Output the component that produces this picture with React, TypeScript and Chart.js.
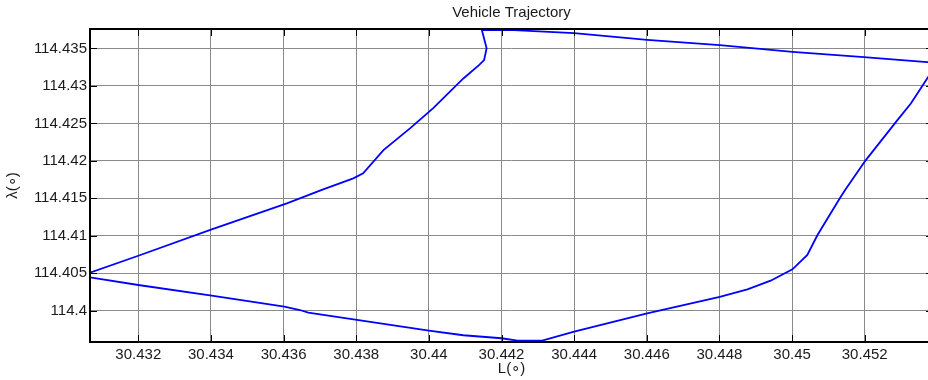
import React, { useEffect, useRef } from 'react';
import { Chart, registerables } from 'chart.js';

Chart.register(...registerables);

// Longitude-like x values, L(°)
const lonValues = [
  30.44234, 30.444, 30.44601, 30.44801, 30.45001, 30.45198, 30.45372, 30.45401,
  30.45372, 30.45327, 30.4529, 30.45203, 30.45146, 30.45134, 30.4507, 30.45042,
  30.45001, 30.44941, 30.44877, 30.44801, 30.44601, 30.444, 30.44312, 30.44244,
  30.442, 30.44095, 30.44, 30.43802, 30.43668, 30.43645, 30.43602, 30.43402,
  30.432, 30.43067, 30.43062, 30.43067, 30.432, 30.43402, 30.43609, 30.43709,
  30.43792, 30.43819, 30.43875, 30.43948, 30.44012, 30.44095, 30.44138, 30.44152,
  30.44159, 30.44146, 30.44149, 30.44234,
];

// y values, λ(°)
const latValues = [
  114.43746, 114.43704, 114.43615, 114.43544, 114.43455, 114.43384, 114.43317, 114.43307,
  114.431, 114.42766, 114.42544, 114.4201, 114.4161, 114.41521, 114.4101, 114.40743,
  114.40552, 114.404, 114.40285, 114.40183, 114.39965, 114.3972, 114.396, 114.396,
  114.39632, 114.39672, 114.39733, 114.39876, 114.39973, 114.40009, 114.40053, 114.402,
  114.40343, 114.40445, 114.40476, 114.40507, 114.40733, 114.41086, 114.41433, 114.41619,
  114.41766, 114.41833, 114.42143, 114.42433, 114.42704, 114.431, 114.43277, 114.43344,
  114.43504, 114.43744, 114.43746, 114.43746,
];

const lonTicks = [30.432, 30.434, 30.436, 30.438, 30.44, 30.442, 30.444, 30.446, 30.448, 30.45, 30.452];
const lonTickLabels = ['30.432', '30.434', '30.436', '30.438', '30.44', '30.442', '30.444', '30.446', '30.448', '30.45', '30.452'];
const latTicks = [114.4, 114.405, 114.41, 114.415, 114.42, 114.425, 114.43, 114.435];
const latTickLabels = ['114.4', '114.405', '114.41', '114.415', '114.42', '114.425', '114.43', '114.435'];

const lonRange = [30.43067, 30.45388];
const latRange = [114.39582, 114.4376];

const chartTitle = 'Vehicle Trajectory';
const xTitle = 'L(\u2218)';
const yTitle = '\u03bb(\u2218)';

const FONT = { family: '"Liberation Sans", Arial, sans-serif', size: 15 };
const TEXT = '#1a1a1a';

const labelFor = (ticks: number[], labels: string[], v: number) => {
  const i = ticks.findIndex((t) => Math.abs(t - v) < 1e-9);
  return i >= 0 ? labels[i] : '';
};

const framePlugin = {
  id: 'frameTicks',
  afterDatasetsDraw(chart: any) {
    const { ctx, chartArea, scales } = chart;
    const { left, right, top, bottom } = chartArea;
    const x = scales.x;
    const y = scales.y;
    ctx.save();
    ctx.strokeStyle = '#000';
    ctx.lineWidth = 1;
    ctx.beginPath();
    lonTicks.forEach((v) => {
      const px = Math.round(x.getPixelForValue(v)) + 0.5;
      ctx.moveTo(px, bottom);
      ctx.lineTo(px, bottom - 7);
      ctx.moveTo(px, top);
      ctx.lineTo(px, top + 7);
    });
    latTicks.forEach((v) => {
      const py = Math.round(y.getPixelForValue(v)) + 0.5;
      ctx.moveTo(left, py);
      ctx.lineTo(left + 7, py);
      ctx.moveTo(right, py);
      ctx.lineTo(right - 7, py);
    });
    ctx.stroke();
    ctx.lineWidth = 2;
    ctx.strokeRect(left, top, right - left, bottom - top);
    ctx.restore();
  },
};

export default function App() {
  const ref = useRef<HTMLCanvasElement | null>(null);

  useEffect(() => {
    if (!ref.current) return;
    const points = lonValues.map((v, i) => ({ x: v, y: latValues[i] }));
    const chart = new Chart(ref.current, {
      type: 'scatter',
      data: {
        datasets: [
          {
            data: points,
            showLine: true,
            borderColor: '#0000ff',
            borderWidth: 1.8,
            pointRadius: 0,
            pointHoverRadius: 0,
            tension: 0,
            clip: 0,
          } as any,
        ],
      },
      options: {
        responsive: false,
        animation: false,
        events: [],
        layout: { padding: { left: 0, right: 1, top: 0, bottom: 0 } },
        plugins: {
          legend: { display: false },
          tooltip: { enabled: false },
          title: {
            display: true,
            text: chartTitle,
            color: TEXT,
            font: { ...FONT, weight: 'normal' },
            fullSize: false,
            padding: { top: 3.8, bottom: 7.2 },
          },
        },
        scales: {
          x: {
            type: 'linear',
            position: 'bottom',
            min: lonRange[0],
            max: lonRange[1],
            afterBuildTicks: (s: any) => {
              s.ticks = lonTicks.map((v) => ({ value: v }));
            },
            afterFit: (s: any) => {
              s.height = 38;
            },
            ticks: {
              autoSkip: false,
              maxRotation: 0,
              padding: 4,
              color: TEXT,
              font: FONT,
              callback: (v: any) => labelFor(lonTicks, lonTickLabels, Number(v)),
            },
            grid: { color: '#8a8a8a', lineWidth: 1, drawTicks: false },
            border: { display: false },
            title: {
              display: true,
              text: xTitle,
              color: TEXT,
              font: FONT,
              padding: { top: 0, bottom: 2 },
            },
          },
          y: {
            type: 'linear',
            position: 'left',
            min: latRange[0],
            max: latRange[1],
            afterBuildTicks: (s: any) => {
              s.ticks = latTicks.map((v) => ({ value: v }));
            },
            afterFit: (s: any) => {
              s.width = 90;
            },
            ticks: {
              autoSkip: false,
              padding: 3,
              color: TEXT,
              font: FONT,
              callback: (v: any) => labelFor(latTicks, latTickLabels, Number(v)),
            },
            grid: { color: '#8a8a8a', lineWidth: 1, drawTicks: false },
            border: { display: false },
            title: {
              display: true,
              text: yTitle,
              color: TEXT,
              font: FONT,
              padding: { top: 4, bottom: 0 },
            },
          },
        },
      },
      plugins: [framePlugin],
    });
    return () => chart.destroy();
  }, []);

  return (
    <div
      style={{
        position: 'absolute',
        left: 0,
        top: 0,
        width: 928,
        height: 380,
        overflow: 'hidden',
        background: '#fff',
      }}
    >
      <canvas ref={ref} width={934} height={380} style={{ display: 'block' }} />
    </div>
  );
}
